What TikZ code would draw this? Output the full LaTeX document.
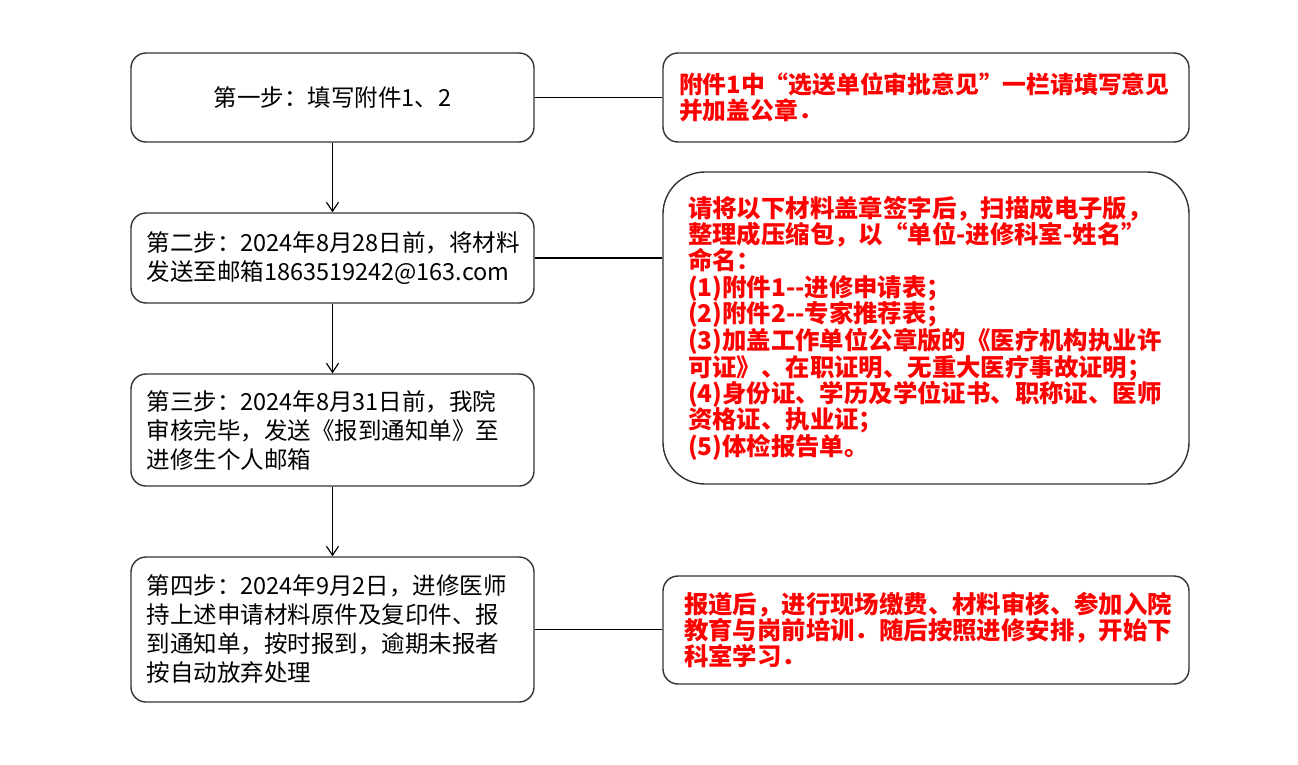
\documentclass[tikz,border=0pt]{standalone}
\usepackage{fontspec}
\newfontfamily\cjk{Noto Sans CJK SC}
\usetikzlibrary{arrows.meta}
\definecolor{bordergray}{HTML}{333333}
\definecolor{notered}{HTML}{FF0000}
\tikzset{
  stepbox/.style={draw=bordergray, line width=1.4pt, rounded corners=15pt, fill=white,
    minimum width=403pt, align=left, inner sep=0pt, text width=372pt,
    font=\cjk\fontsize{23.5}{29}\selectfont},
  notebox/.style={draw=bordergray, line width=1.4pt, rounded corners=15pt, fill=white,
    minimum width=526pt, align=left, inner sep=0pt, text=notered, text width=484pt,
    font=\cjk\bfseries\fontsize{24.4}{26.3}\selectfont},
  flowarrow/.style={line width=1.2pt, -{Straight Barb[length=9pt,width=12pt,line width=1.2pt]}},
  link/.style={line width=1.4pt}
}
\begin{document}
\begin{tikzpicture}[x=1pt,y=-1pt]
\useasboundingbox (0,0) rectangle (1298,765);
% left steps
\node[stepbox, minimum height=89pt, align=center] (s1) at (332.5,97.5) {第一步：填写附件1、2};
\node[stepbox, minimum height=90pt] (s2) at (332.5,258) {第二步：2024年8月28日前，将材料\\发送至邮箱1863519242@163.com};
\node[stepbox, minimum height=112pt] (s3) at (332.5,430) {第三步：2024年8月31日前，我院\\审核完毕，发送《报到通知单》至\\进修生个人邮箱};
\node[stepbox, minimum height=145pt] (s4) at (332.5,629.5) {第四步：2024年9月2日，进修医师\\持上述申请材料原件及复印件、报\\到通知单，按时报到，逾期未报者\\按自动放弃处理};
% right notes
\node[notebox, minimum height=89pt, text width=494pt, font=\cjk\bfseries\fontsize{23.8}{26.5}\selectfont] (n1) at (926,97.5) {附件1中“选送单位审批意见”一栏请填写意见\\并加盖公章．};
\node[notebox, minimum height=312pt, rounded corners=42pt, text width=476pt] (n2) at (926,328) {请将以下材料盖章签字后，扫描成电子版，\\整理成压缩包，以“单位-进修科室-姓名”\\命名：\\(1)附件1--进修申请表；\\(2)附件2--专家推荐表；\\(3)加盖工作单位公章版的《医疗机构执业许\\可证》、在职证明、无重大医疗事故证明；\\(4)身份证、学历及学位证书、职称证、医师\\资格证、执业证；\\(5)体检报告单。};
\node[notebox, minimum height=108pt] (n3) at (926,630) {报道后，进行现场缴费、材料审核、参加入院\\教育与岗前培训．随后按照进修安排，开始下\\科室学习．};
% connectors
\draw[flowarrow] (s1.south) -- (s2.north);
\draw[flowarrow] (s2.south) -- (s3.north);
\draw[flowarrow] (s3.south) -- (s4.north);
\draw[link] (s1.east) -- (n1.west);
\draw[link] (s2.east) -- (s2.east -| n2.west);
\draw[link] (s4.east) -- (s4.east -| n3.west);
\end{tikzpicture}
\end{document}
